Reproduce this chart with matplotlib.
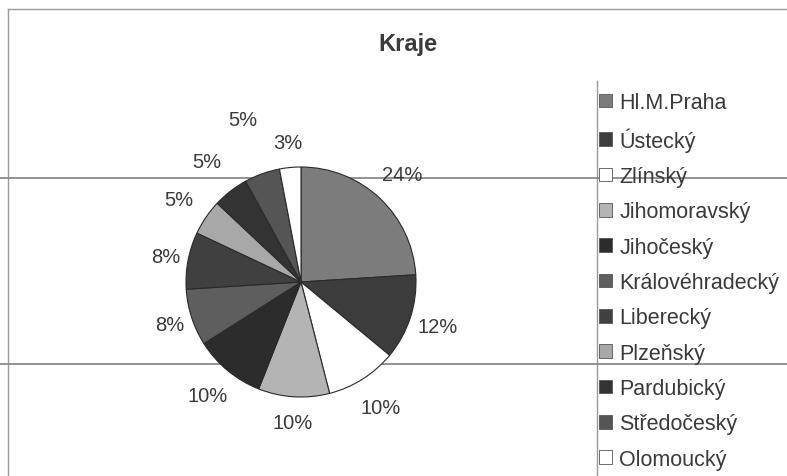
"""Koláčový graf: podíl krajů."""
import matplotlib
matplotlib.use("Agg")
import matplotlib.pyplot as plt
import numpy as np
from matplotlib.lines import Line2D

kraje = ["Hl.M.Praha", "Ústecký", "Zlínský", "Jihomoravský", "Jihočeský",
         "Královéhradecký", "Liberecký", "Plzeňský", "Pardubický",
         "Středočeský", "Olomoucký"]
podily = [24, 12, 10, 10, 10, 8, 8, 5, 5, 5, 3]
barvy = ["#7c7c7c", "#3c3c3c", "#ffffff", "#b4b4b4", "#2c2c2c", "#5e5e5e",
         "#404040", "#a8a8a8", "#333333", "#555555", "#ffffff"]
# vzdálenost popisků od středu (v poloměrech)
popisky_r = [1.28, 1.25, 1.29, 1.22, 1.28, 1.2, 1.2, 1.28, 1.33, 1.5, 1.22]

plt.rcParams["font.family"] = ["Liberation Sans", "DejaVu Sans"]
text_c = "#3a3a3a"

W, H = 787, 477
fig = plt.figure(figsize=(W / 100, H / 100), dpi=100)

# koláč: střed (301, 283) px, poloměr 115 px
cx, cy, R = 301, 283, 115
ax = fig.add_axes([(cx - R) / W, (H - cy - R) / H, 2 * R / W, 2 * R / H])
ax.set_zorder(2)
ax.patch.set_visible(False)
wedges, _ = ax.pie(podily, colors=barvy, startangle=90, counterclock=False,
                   wedgeprops=dict(edgecolor="#2a2a2a", linewidth=0.8))
ax.set_xlim(-1, 1)
ax.set_ylim(-1, 1)
ax.set_aspect("equal")
ax.axis("off")

for w, v, r in zip(wedges, podily, popisky_r):
    ang = np.deg2rad((w.theta1 + w.theta2) / 2)
    ax.text(r * np.cos(ang), r * np.sin(ang), f"{v}%", ha="center", va="center",
            fontsize=14.5, color=text_c, clip_on=False)

fig.text(408 / W, 1 - 45 / H, "Kraje", ha="center", va="center",
         fontsize=17, fontweight="bold", color=text_c)

leg = fig.legend(wedges, kraje, loc="upper left", bbox_to_anchor=(599 / W, 1 - 93 / H),
                 frameon=False, fontsize=15.5, labelcolor=text_c,
                 handlelength=0.6, handleheight=0.6, handletextpad=0.35,
                 labelspacing=0.665, borderaxespad=0, borderpad=0)
for h in leg.legend_handles:
    h.set_edgecolor("#555555")
    h.set_linewidth(0.6)

# rámeček grafu a linky ze skenu (pod koláčem)
car = dict(color="#9a9a9a", linewidth=1.0, transform=fig.transFigure, zorder=1)
sken = dict(color="#8a8a8a", linewidth=1.3, transform=fig.transFigure, zorder=1)
fig.add_artist(Line2D([8 / W, 1], [1 - 10 / H, 1 - 10 / H], **car))
fig.add_artist(Line2D([8 / W, 8 / W], [0, 1 - 10 / H], **car))
fig.add_artist(Line2D([597 / W, 597 / W], [0, 1 - 82 / H], **car))
fig.add_artist(Line2D([0, 1], [1 - 179 / H, 1 - 179 / H], **sken))
fig.add_artist(Line2D([0, 1], [1 - 365 / H, 1 - 365 / H], **sken))

fig.savefig("out.png", dpi=100)
